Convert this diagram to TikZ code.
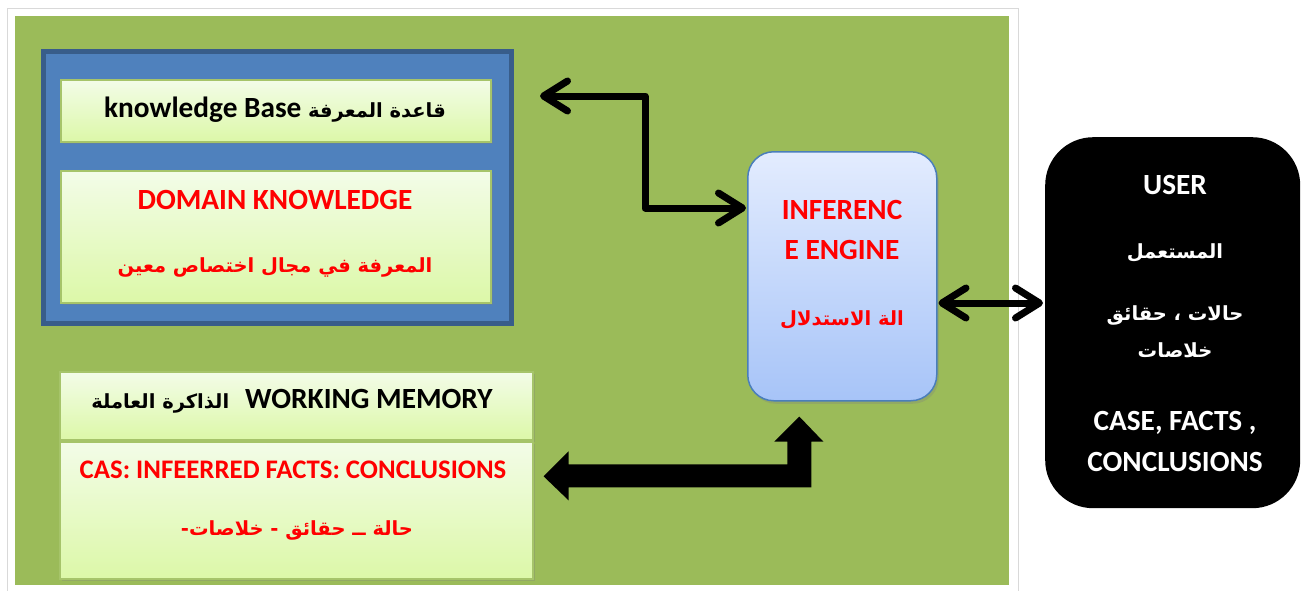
\documentclass[tikz,border=0pt]{standalone}
\usepackage{fontspec}
\setmainfont{Carlito}
\newfontfamily\arabicfont[Script=Arabic]{DejaVu Sans}
\TeXXeTstate=1
\usetikzlibrary{arrows.meta,shadows,calc}
\definecolor{bggreen}{HTML}{9BBB59}
\definecolor{blfill}{HTML}{4F81BD}
\definecolor{blborder}{HTML}{385D8A}
\definecolor{lgtop}{HTML}{F3FCE8}
\definecolor{lgbot}{HTML}{DCF8A8}
\definecolor{lgborder}{HTML}{A6C46A}
\definecolor{ietop}{HTML}{E3ECFE}
\definecolor{iebot}{HTML}{A7C4F8}
\definecolor{ieborder}{HTML}{4A7EBB}
\definecolor{tred}{HTML}{FF0000}
\newcommand\arb[1]{{\arabicfont\bfseries\fontsize{19.5}{24}\selectfont\beginR #1\endR}}
\begin{document}
\begin{tikzpicture}[x=1pt,y=-1pt,
  lgbox/.style={draw=lgborder, line width=1.5pt, top color=lgtop, bottom color=lgbot,
    inner sep=0pt, anchor=north west,
    drop shadow={opacity=0.3,shadow xshift=2pt,shadow yshift=-2pt}},
  en/.style={font=\fontsize{29.3}{35}\selectfont\bfseries, anchor=base, inner sep=0pt},
  thinarr/.style={line width=7pt, line cap=round, line join=round,
    {Straight Barb[round,length=24pt,width=30pt]}-{Straight Barb[round,length=24pt,width=30pt]}},
]
\useasboundingbox (0,0) rectangle (1301,590);
\fill[white] (0,0) rectangle (1301,590);
% frame and green panel
\node[draw=gray!30, fill=white, line width=1pt, inner sep=0pt, anchor=north west,
  minimum width=1011, minimum height=590] (frame) at (7,8) {};
\node[fill=bggreen, inner sep=0pt, anchor=north west,
  minimum width=994, minimum height=569] (panel) at (15,16) {};
% knowledge base group
\node[draw=blborder, fill=blfill, line width=5pt, inner sep=0pt, anchor=north west,
  minimum width=468, minimum height=272] (kbgroup) at (41,49) {};
\node[lgbox, minimum width=430, minimum height=62] (kb) at (60,79) {};
\node[en] (kbtxt) at (275,117) {knowledge Base \arb{قاعدة المعرفة}};
\node[lgbox, minimum width=430, minimum height=132] (dom) at (60,170) {};
\node[en, text=tred] (domtxt) at (275,209) {DOMAIN KNOWLEDGE};
\node[en, text=tred] (domar) at (275,272) {\arb{المعرفة في مجال اختصاص معين}};
% working memory
\node[lgbox, minimum width=473, minimum height=68] (wmh) at (59,371) {};
\node[en] (wmhtxt) at (292,408) {\arb{الذاكرة العاملة}\hspace{16pt}WORKING MEMORY};
\node[lgbox, minimum width=473, minimum height=137] (wmb) at (59,441) {};
\node[en, text=tred, font=\fontsize{26.8}{32}\selectfont\bfseries] (wmbtxt) at (293,478) {CAS: INFEERRED FACTS: CONCLUSIONS};
\node[en, text=tred] (wmbar) at (297,535) {\arb{حالة ــ حقائق - خلاصات-}};
% inference engine
\node[draw=ieborder, line width=1.5pt, top color=ietop, bottom color=iebot,
  rounded corners=26pt, inner sep=0pt, anchor=north west,
  minimum width=189, minimum height=249,
  drop shadow={opacity=0.3,shadow xshift=2pt,shadow yshift=-3pt}] (ie) at (747,151) {};
\node[en, text=tred] (ie1) at (842,219) {INFERENC};
\node[en, text=tred] (ie2) at (842,259) {E ENGINE};
\node[en, text=tred] (ie3) at (842,325) {\arb{الة الاستدلال}};
% user
\node[fill=black, rounded corners=48pt, inner sep=0pt, anchor=north west,
  minimum width=255, minimum height=371] (user) at (1045,137) {};
\node[en, text=white] (u1) at (1175,194) {USER};
\node[en, text=white] (u2) at (1175,258) {\arb{المستعمل}};
\node[en, text=white] (u3) at (1175,320) {\arb{حالات ، حقائق}};
\node[en, text=white] (u4) at (1175,357) {\arb{خلاصات}};
\node[en, text=white] (u5) at (1175,430) {CASE, FACTS ,};
\node[en, text=white] (u6) at (1175,471) {CONCLUSIONS};
% connectors
\coordinate (kbtip) at ($(kbgroup.north east)+(26,47)$);
\coordinate (iein) at ($(ie.north west)+(-1,57)$);
\draw[thinarr] (kbtip) -- ++(105,0) |- (iein);
\coordinate (ieR) at ($(ie.north east)+(1,152)$);
\coordinate (usL) at (user.west |- ieR);
\draw[thinarr] (ieR) -- ($(usL)+(-2,0)$);
% block arrow between working memory and inference engine
\coordinate (bL) at ($(wmb.east)+(10,-34)$);
\coordinate (bU) at ($(ie.south)+(-43,15)$);
\coordinate (bC) at (bU |- bL);
\fill[black] (bL) -- ($(bL)+(25,-25)$) -- ($(bL)+(25,-12)$) -- ($(bC)+(-12,-12)$)
  -- ($(bU)+(-12,25)$) -- ($(bU)+(-25,25)$) -- (bU) -- ($(bU)+(24,25)$)
  -- ($(bU)+(12,25)$) -- ($(bC)+(12,11)$) -- ($(bL)+(25,11)$) -- ($(bL)+(25,24)$) -- cycle;
\end{tikzpicture}
\end{document}
